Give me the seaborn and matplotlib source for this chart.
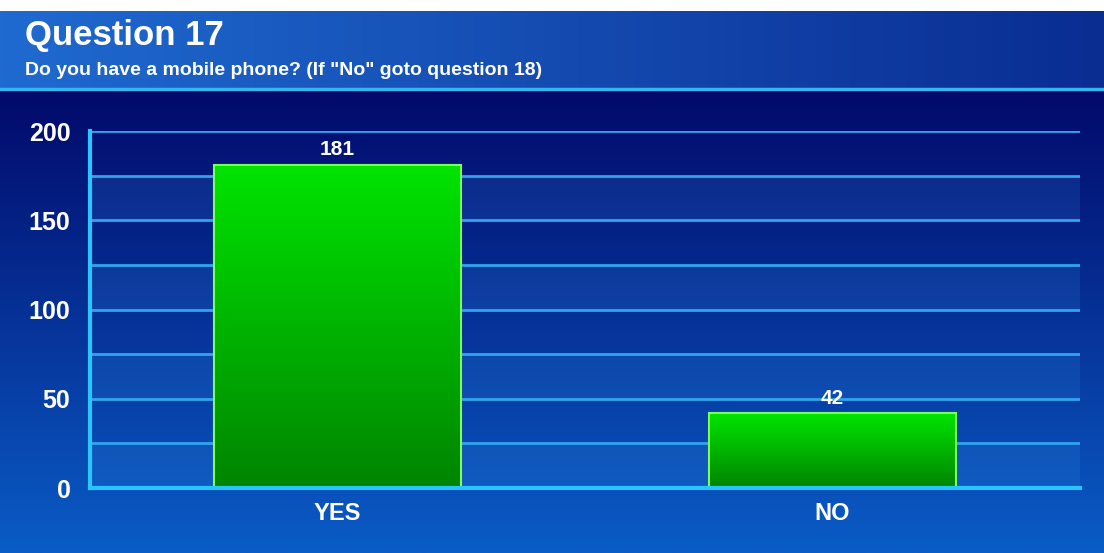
import numpy as np
import seaborn as sns
import matplotlib.pyplot as plt
from matplotlib.colors import to_rgb
from matplotlib.ticker import MultipleLocator, FixedLocator

# data
answers = ["YES", "NO"]
counts = [181, 42]
y_ticks = [0, 50, 100, 150, 200]

title = "Question 17"
subtitle = 'Do you have a mobile phone? (If "No" goto question 18)'

sns.set_style("white")
plt.rcParams["font.family"] = ["Liberation Sans", "DejaVu Sans"]
plt.rcParams["font.weight"] = "bold"


def grad(c1, c2, n=256, vertical=True):
    a, b = np.array(to_rgb(c1)), np.array(to_rgb(c2))
    t = np.linspace(0, 1, n)[:, None]
    g = a + (b - a) * t
    return g[:, None, :] if vertical else g[None, :, :]


fig = plt.figure(figsize=(11.04, 5.53), dpi=100)

# background: body gradient + header strip
bg = fig.add_axes([0, 0, 1, 1])
bg.set_xlim(0, 1)
bg.set_ylim(0, 1)
bg.axis("off")
bg.imshow(grad("#0a5cc6", "#02096a"), extent=[0, 1, 0, 0.84],
          origin="lower", aspect="auto", zorder=0)
bg.imshow(grad("#1f6ad0", "#0a2d92", vertical=False), extent=[0, 1, 0.84, 0.978],
          origin="lower", aspect="auto", zorder=0)
bg.axhline(0.839, color="#34b4f0", lw=2.5, zorder=1)
bg.text(0.023, 0.918, title, color="white", fontsize=25, fontweight="bold", va="baseline")
bg.text(0.023, 0.865, subtitle, color="white", fontsize=14, fontweight="bold", va="baseline")

# chart
ax = fig.add_axes([0.0815, 0.1175, 0.8965, 0.6455])
ax.patch.set_alpha(0)
sns.barplot(x=answers, y=counts, ax=ax, width=0.5, color="#00c000",
            edgecolor="#7dff5a", linewidth=1.5, zorder=3)

for p in ax.patches:
    x0, y0 = p.get_x(), p.get_y()
    w, h = p.get_width(), p.get_height()
    im = ax.imshow(grad("#008400", "#00e400"), extent=[x0, x0 + w, y0, y0 + h],
                   origin="lower", aspect="auto", zorder=3.5)
    im.set_clip_path(p)
    p.set_facecolor("none")
    p.set_zorder(4)

for i, v in enumerate(counts):
    ax.annotate(str(v), (i, v), xytext=(0, 4), textcoords="offset points",
                ha="center", va="bottom", color="white", fontsize=15, fontweight="bold")

# alternating bands
for lo in range(0, 200, 50):
    ax.axhspan(lo, lo + 25, color="#3a9cf0", alpha=0.15, lw=0, zorder=0.5)

ax.set_xlim(-0.5, 1.5)
ax.set_ylim(0, 200)
ax.yaxis.set_major_locator(FixedLocator(y_ticks))
ax.yaxis.set_minor_locator(MultipleLocator(25))
ax.grid(axis="y", which="both", color="#30a4ec", lw=2, zorder=1)
ax.xaxis.set_minor_locator(FixedLocator([-0.5, 0.5, 1.5]))

ax.tick_params(axis="y", which="major", colors="#2cc4ff", length=6, width=2.5,
               labelcolor="white", labelsize=18, pad=8)
ax.tick_params(axis="y", which="minor", length=0)
ax.tick_params(axis="x", which="major", length=0, labelcolor="white", labelsize=17, pad=10)
ax.tick_params(axis="x", which="minor", colors="#2cc4ff", length=6, width=2.5)
for lab in ax.get_xticklabels() + ax.get_yticklabels():
    lab.set_fontweight("bold")

for s in ["top", "right"]:
    ax.spines[s].set_visible(False)
for s in ["left", "bottom"]:
    ax.spines[s].set_color("#2cc4ff")
    ax.spines[s].set_linewidth(3)
    ax.spines[s].set_zorder(5)
ax.set_xlabel("")
ax.set_ylabel("")

fig.savefig("out.png", dpi=100)
